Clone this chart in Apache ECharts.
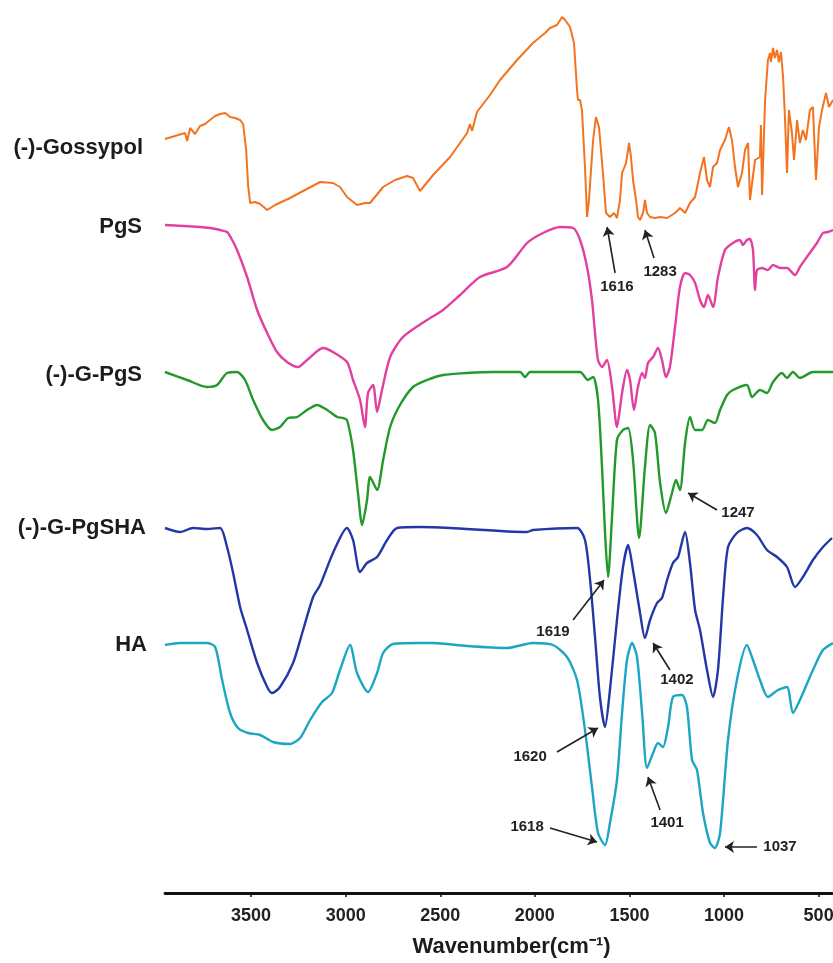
<!DOCTYPE html>
<html>
<head>
<meta charset="utf-8">
<script src="https://cdn.jsdelivr.net/npm/echarts@6/dist/echarts.min.js"></script>
<style>
html,body{margin:0;padding:0;background:#fff;}
#chart{width:833px;height:963px;}
</style>
</head>
<body>
<div id="chart"></div>
<script>
// ---- data (wavenumber in cm-1, transmittance in a.u. with vertical offsets) ----
const tickValues = [3500, 3000, 2500, 2000, 1500, 1000, 500];
const seriesNames = ['(-)-Gossypol', 'PgS', '(-)-G-PgS', '(-)-G-PgSHA', 'HA'];

const gossypolWn = [3955,3902,3849,3838,3822,3796,3770,3743,3717,3690,3664,3637,3611,3585,3558,3542,3526,3516,3505,3479,3452,3415,3373,3294,3215,3135,3067,3030,2993,2940,2898,2871,2802,2739,2676,2644,2607,2538,2448,2358,2343,2332,2306,2237,2184,2094,2010,1946,1920,1883,1856,1840,1814,1793,1777,1772,1761,1751,1735,1724,1714,1692,1677,1661,1640,1624,1603,1581,1566,1550,1539,1518,1502,1492,1481,1465,1455,1444,1428,1418,1407,1391,1365,1338,1301,1259,1233,1206,1180,1153,1127,1106,1090,1074,1058,1037,1021,995,974,958,942,926,905,889,873,863,836,810,805,799,783,768,757,752,741,731,720,710,699,688,678,667,657,641,630,614,599,583,567,546,530,514,498,482,461,445,424];
const gossypolT = [75.4,75.7,76.0,75.2,76.5,75.9,76.7,76.9,77.3,77.7,77.9,78.0,77.6,77.5,77.3,76.9,74.3,70.8,69.0,69.1,68.9,68.3,68.8,69.5,70.3,71.1,71.0,70.6,69.6,68.8,69.0,69.0,70.6,71.3,71.7,71.5,70.2,71.8,73.6,76.0,76.9,76.2,78.1,79.8,81.3,83.3,85.0,86.0,86.5,86.8,87.6,87.3,86.6,85.0,80.3,79.3,79.3,78.3,72.6,67.6,69.3,75.3,77.6,76.6,72.0,68.0,67.6,68.0,67.5,69.3,72.0,73.0,75.0,73.6,71.3,69.3,67.6,67.3,68.0,69.3,68.0,67.6,67.5,67.6,67.5,68.0,68.5,68.0,69.0,69.6,72.0,73.6,71.3,70.6,72.6,73.0,74.3,75.3,76.6,75.3,72.6,70.6,72.0,74.3,75.0,69.3,73.3,73.6,76.8,69.8,79.3,83.3,84.0,83.1,84.5,83.5,84.3,83.1,84.1,81.6,77.6,72.0,78.3,76.0,73.3,77.3,75.0,76.3,75.3,78.3,78.6,71.3,76.6,78.3,80.0,78.6,79.3];

const pgsWn = [3955,3770,3717,3664,3627,3600,3574,3521,3468,3415,3363,3310,3252,3204,3119,3067,2993,2961,2924,2898,2882,2855,2834,2808,2765,2697,2570,2485,2395,2290,2147,2041,1957,1867,1798,1761,1724,1698,1682,1666,1645,1619,1592,1566,1539,1513,1497,1476,1455,1433,1418,1402,1375,1349,1328,1307,1286,1259,1233,1206,1180,1153,1127,1106,1085,1058,1032,995,953,916,900,879,863,847,836,826,799,768,741,704,667,625,599,562,509,477,451,424];
const pgsT = [66.8,66.6,66.5,66.3,66.1,65.3,64.3,61.6,58.3,56.0,54.1,53.1,52.6,53.3,54.5,54.1,53.1,51.3,49.3,46.6,50.0,50.8,48.1,50.3,53.6,55.6,57.3,58.3,59.8,61.6,62.6,65.0,66.0,66.6,66.5,65.3,62.6,59.3,56.0,53.3,52.6,53.3,50.6,46.6,50.0,52.3,51.3,48.3,50.6,52.0,51.5,53.0,53.6,54.5,53.3,51.6,52.6,56.6,60.6,62.0,61.8,61.0,59.3,58.6,59.8,58.6,61.6,64.3,65.0,65.3,64.8,65.3,65.4,64.3,60.3,62.3,62.5,62.3,62.8,62.5,62.5,61.8,62.6,63.6,65.0,66.0,66.1,66.3];

const gpgsWn = [3955,3838,3733,3680,3627,3574,3532,3489,3437,3389,3347,3304,3257,3204,3151,3098,3045,3014,2993,2961,2935,2913,2887,2871,2834,2802,2765,2713,2644,2570,2485,2358,2221,2078,2052,2025,1867,1761,1719,1692,1666,1645,1629,1613,1592,1566,1534,1507,1481,1449,1418,1391,1365,1338,1307,1275,1254,1233,1206,1180,1153,1116,1085,1048,1021,984,953,879,852,810,773,741,694,667,636,599,530,424];
const gpgsT = [52.1,51.3,50.6,50.8,52.0,52.1,51.3,49.3,47.3,46.3,46.6,47.5,47.6,48.3,48.8,48.3,47.6,47.5,47.3,44.3,40.0,36.8,39.3,41.6,40.3,43.3,46.6,48.8,50.6,51.3,51.8,52.0,52.1,52.1,51.6,52.1,52.1,52.1,51.3,51.6,49.3,42.6,36.0,31.6,37.6,45.3,46.3,46.5,43.3,35.5,42.6,46.8,46.0,41.0,38.0,40.0,41.3,40.3,45.0,47.6,46.3,46.3,47.3,47.0,48.3,49.8,50.3,50.8,49.6,50.3,50.0,51.1,52.0,51.5,52.1,51.5,52.1,52.1];

const gpgshaWn = [3955,3875,3807,3733,3664,3627,3595,3558,3521,3468,3415,3389,3347,3278,3225,3172,3135,3067,2993,2961,2924,2887,2834,2781,2728,2607,2448,2041,2010,1777,1735,1708,1682,1656,1629,1603,1566,1534,1507,1481,1444,1418,1391,1354,1328,1301,1270,1243,1206,1180,1153,1127,1090,1058,1032,1005,979,932,879,826,773,720,667,625,583,530,477,429];
const gpgshaT = [36.5,36.1,36.5,36.4,36.5,34.6,32.0,28.6,26.3,23.0,20.6,20.0,20.6,23.0,26.3,29.6,30.8,34.0,36.5,35.3,32.1,33.0,33.6,35.3,36.5,36.6,36.5,36.1,36.3,36.5,35.3,31.3,25.6,19.6,16.6,20.3,27.3,32.6,34.8,32.3,28.0,25.5,27.3,29.0,29.5,31.3,33.0,33.6,36.1,33.0,28.3,26.3,22.3,19.6,22.3,29.6,34.6,36.0,36.5,35.8,34.3,33.6,32.6,30.6,31.6,33.3,34.6,35.5];

const haWn = [3955,3875,3733,3690,3653,3611,3569,3516,3452,3384,3294,3241,3188,3125,3072,3030,2977,2940,2882,2834,2802,2750,2607,2538,2358,2147,2010,1904,1830,1777,1735,1698,1666,1629,1603,1566,1539,1513,1486,1460,1433,1407,1375,1349,1323,1296,1270,1222,1196,1169,1143,1111,1074,1048,1021,979,932,879,847,810,768,715,667,636,599,530,477,424];
const haT = [24.8,25.0,25.0,24.6,21.3,18.0,16.5,16.0,15.8,15.1,14.9,15.5,17.3,19.1,20.0,22.3,24.8,22.0,20.1,22.0,24.0,24.9,25.0,25.0,24.7,24.5,25.0,24.8,23.6,21.3,16.3,10.6,6.0,4.8,7.0,11.3,18.0,23.3,25.0,23.6,18.0,12.5,14.0,15.0,14.6,16.6,19.6,19.8,18.6,13.3,12.3,8.0,5.0,4.5,6.0,15.3,21.3,24.8,23.3,21.3,19.6,20.3,20.6,18.0,19.3,22.3,24.3,25.0];

// peak annotations: label, label position [wn, T], arrow tail [wn, T], arrow tip [wn, T]
const annLabels = ['1616','1283','1247','1619','1402','1620','1401','1618','1037'];
const annText = [[1566,60.6],[1338,62.1],[926,38.0],[1904,26.1],[1249,21.3],[2025,13.6],[1301,7.0],[2041,6.6],[704,4.6]];
const annTail = [[1576,62.0],[1370,63.5],[1037,38.3],[1798,27.3],[1286,22.3],[1883,14.1],[1338,8.3],[1920,6.5],[826,4.6]];
const annTip  = [[1618,66.6],[1418,66.3],[1190,40.0],[1634,31.3],[1375,25.0],[1666,16.5],[1402,11.6],[1671,5.1],[995,4.6]];

const colors = ['#F4731F', '#E2409F', '#22992A', '#2337A6', '#1CA6C4'];
const labelY = [74.5, 66.6, 51.8, 36.5, 24.8];
const labelRight = [143, 142, 142, 146, 147];

// ---- chart ----
const FONT = '"Liberation Sans", Arial, Helvetica, sans-serif';
const chart = echarts.init(document.getElementById('chart'), null, {renderer: 'canvas'});

const wnSets = [gossypolWn, pgsWn, gpgsWn, gpgshaWn, haWn];
const tSets = [gossypolT, pgsT, gpgsT, gpgshaT, haT];

const series = seriesNames.map((name, k) => ({
  name: name,
  type: 'line',
  data: wnSets[k].map((w, i) => [w, tSets[k][i]]),
  showSymbol: false,
  symbol: 'none',
  smooth: k === 0 ? false : 0.25,
  lineStyle: {color: colors[k], width: k === 0 ? 2 : 2.4},
  itemStyle: {color: colors[k]},
  silent: true,
  z: 2
}));

// annotation arrows and labels on a helper series
series.push({
  name: 'annotations',
  type: 'line',
  data: [],
  silent: true,
  z: 5,
  markLine: {
    silent: true,
    symbol: ['none', 'arrow'],
    symbolSize: 9,
    itemStyle: {color: '#222'},
    lineStyle: {color: '#222', width: 1.6, type: 'solid'},
    label: {show: false},
    emphasis: {disabled: true},
    animation: false,
    data: annLabels.map((l, i) => [{coord: annTail[i]}, {coord: annTip[i]}])
  },
  markPoint: {
    silent: true,
    animation: false,
    symbol: 'circle',
    symbolSize: 0,
    itemStyle: {color: 'rgba(0,0,0,0)'},
    label: {show: true, position: 'inside', color: '#222', fontFamily: FONT, fontWeight: 'bold', fontSize: 15},
    data: annLabels.map((l, i) => ({coord: annText[i], value: l, label: {formatter: l}}))
  }
});

const nameGraphics = seriesNames.map((n, k) => ({
  type: 'text',
  x: labelRight[k],
  y: 0,
  style: {text: n, fill: '#1c1c1c', font: 'bold 22px ' + FONT, align: 'right', verticalAlign: 'middle', textAlign: 'right', textVerticalAlign: 'middle'}
}));

chart.setOption({
  animation: false,
  backgroundColor: '#ffffff',
  grid: {left: 165, right: 0, top: 0, bottom: 70, containLabel: false, outerBoundsMode: 'none'},
  xAxis: {
    type: 'value',
    inverse: true,
    min: 424,
    max: 3955,
    axisLine: {show: true, lineStyle: {color: '#111', width: 2.8}},
    axisTick: {show: true, inside: false, length: 4, customValues: tickValues, lineStyle: {color: '#111', width: 1.5}},
    axisLabel: {show: true, customValues: tickValues, formatter: v => String(v), color: '#222', fontFamily: FONT, fontWeight: 'bold', fontSize: 18, margin: 14},
    splitLine: {show: false},
    name: 'Wavenumber(cm\u207B\u00B9)',
    nameLocation: 'middle',
    nameGap: 43,
    nameTextStyle: {color: '#1c1c1c', fontFamily: FONT, fontWeight: 'bold', fontSize: 22, padding: [0, 0, 0, 25]}
  },
  yAxis: {
    type: 'value',
    show: false,
    min: 0,
    max: 89.3,
    splitLine: {show: false}
  },
  series: series
});

// position names vertically using the library's y scale
const gfx = nameGraphics.map((g, k) => {
  const p = chart.convertToPixel({gridIndex: 0}, [3955, labelY[k]]);
  return Object.assign({}, g, {y: p[1]});
});
chart.setOption({graphic: gfx});
</script>
</body>
</html>
